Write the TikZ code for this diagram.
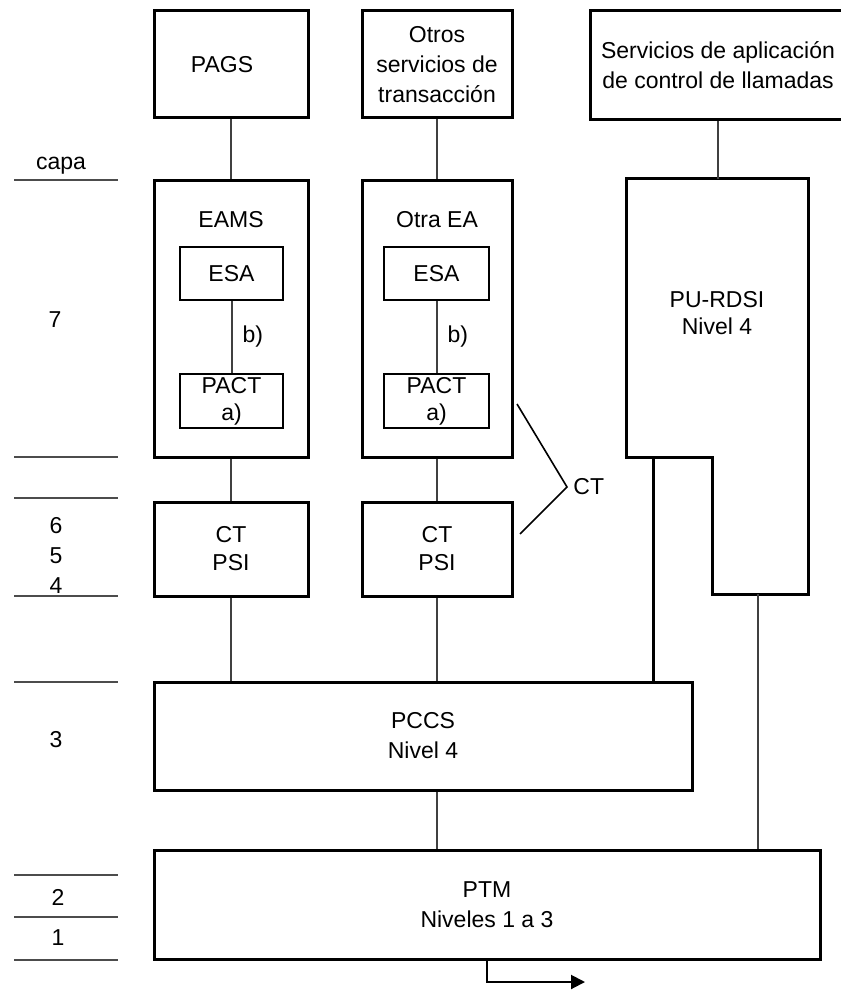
\documentclass[tikz,border=0pt]{standalone}
\usepackage{fontspec}
\setmainfont{Liberation Sans}
\usetikzlibrary{arrows.meta, calc}
\tikzset{
  box/.style   = {rectangle, draw, line width=1.5pt, align=center, inner sep=0pt},
  inbox/.style = {rectangle, draw, line width=1pt, align=center, inner sep=0pt},
  conn/.style  = {draw=black!75, line width=1pt},
  thconn/.style= {draw, line width=1.5pt},
  layer/.style = {draw=black!70, line width=1pt},
  arr/.style   = {-{Triangle[length=7pt, width=7pt]}, line width=1pt},
  lbl/.style   = {align=center, inner sep=0pt},
  tight/.style = {font=\fontsize{11.5}{13.5}\selectfont},
}
\begin{document}
\begin{tikzpicture}[x=0.5pt, y=-0.5pt, font=\fontsize{11.5}{15}\selectfont]
  \useasboundingbox (0,0) rectangle (840,994);
  % layers
  \foreach \y in {180,457,498,596,682,875,917,960}
    \draw[layer] (14,\y) -- (118,\y);
  \node[lbl] (capa) at (61,166) {capa};
  \node[lbl] (l7)   at (55,320) {7};
  \node[lbl] (l654) at (56,555) {6\\5\\4};
  \node[lbl] (l3)   at (56,740) {3};
  \node[lbl] (l2)   at (58,897) {2};
  \node[lbl] (l1)   at (58,938) {1};

  % services
  \node[box, minimum width=77pt, minimum height=53.5pt] (pags) at (231,64.5) {PAGS\hspace*{9pt}};
  \node[box, minimum width=75pt, minimum height=53.5pt] (otros) at (437,64.5)
    {Otros\\servicios de\\transacción};
  \node[box, minimum width=128pt, minimum height=54.5pt] (serv) at (718,65.5)
    {Servicios de aplicación\\de control de llamadas};

  % application entities
  \node[box, minimum width=77pt, minimum height=138pt] (eams) at (231,319) {};
  \node[lbl] (eamst) at (231,220) {EAMS};
  \node[inbox, minimum width=51.5pt, minimum height=26.5pt] (esa1) at (231.5,273.5) {ESA};
  \node[inbox, tight, minimum width=51.5pt, minimum height=27pt] (pact1) at (231.5,401) {PACT\\a)};
  \draw[conn] (esa1) -- (pact1) node[midway, right=5pt, lbl] {b)};

  \node[box, minimum width=75pt, minimum height=138pt] (otra) at (437,319) {};
  \node[lbl] (otrat) at (437,220) {Otra EA};
  \node[inbox, minimum width=52.5pt, minimum height=26.5pt] (esa2) at (436.5,273.5) {ESA};
  \node[inbox, tight, minimum width=52.5pt, minimum height=27pt] (pact2) at (436.5,401) {PACT\\a)};
  \draw[conn] (esa2) -- (pact2) node[midway, right=5pt, lbl] {b)};

  % CT / PSI
  \node[box, minimum width=77pt, minimum height=47pt,
        font=\fontsize{11.5}{14}\selectfont] (ct1) at (231,549) {CT\\PSI};
  \node[box, minimum width=75pt, minimum height=47pt,
        font=\fontsize{11.5}{14}\selectfont] (ct2) at (437,549) {CT\\PSI};

  % PU-RDSI
  \coordinate (rdsin) at (718,179);
  \coordinate (rdsil) at (653,457);
  \coordinate (rdsib) at (758,594);
  \draw[line width=1.5pt] (626,179) -- (808,179) -- (808,594) -- (712,594)
    -- (712,457) -- (626,457) -- cycle;
  \node[lbl, tight] (rdsi) at (717,313) {PU-RDSI\\Nivel 4};

  % lower levels
  \node[box, minimum width=269pt, minimum height=54pt] (pccs) at (423,736) {PCCS\\Nivel 4};
  \node[box, minimum width=333pt, minimum height=54.5pt] (ptm) at (487,904.5) {PTM\\Niveles 1 a 3};

  % CT brace
  \coordinate (cta) at (517,404);
  \coordinate (ctb) at (567,487);
  \coordinate (ctc) at (520,534);
  \draw[line width=0.8pt] (cta) -- (ctb) -- (ctc);
  \node[lbl, anchor=west] (ctl) at (573,487) {CT};

  % connectors
  \draw[conn] (pags) -- (eams);
  \draw[conn] (eams) -- (ct1);
  \draw[conn] (ct1) -- (ct1 |- pccs.north);
  \draw[conn] (otros) -- (otra);
  \draw[conn] (otra) -- (ct2);
  \draw[conn] (ct2) -- (ct2 |- pccs.north);
  \draw[conn] (pccs.south -| ct2.south) -- (ptm.north -| ct2.south);
  \draw[conn] (serv.south) -- (serv.south |- rdsin);
  \draw[thconn] (rdsil) -- (rdsil |- pccs.north);
  \draw[conn] (rdsib) -- (rdsib |- ptm.north);
  \coordinate (outp) at (585,982);
  \draw[arr] (ptm.south) |- (outp);
\end{tikzpicture}
\end{document}
